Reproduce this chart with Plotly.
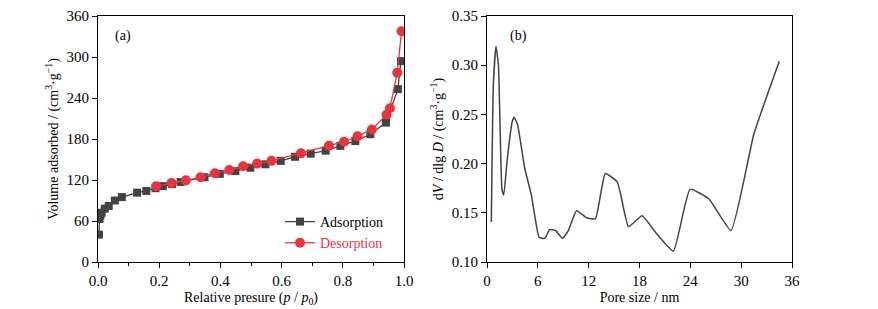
import plotly.graph_objects as go

# Panel (a): N2 adsorption-desorption isotherm
ads_x = [0.003, 0.005, 0.008, 0.012, 0.022, 0.035, 0.055, 0.078, 0.128, 0.158, 0.188, 0.212,
         0.242, 0.270, 0.348, 0.398, 0.449, 0.498, 0.547, 0.597, 0.644, 0.695, 0.744, 0.792,
         0.841, 0.890, 0.941, 0.980, 0.990]
ads_y = [40, 63, 68, 72, 78, 82, 90, 95, 101.5, 104, 108, 111,
         114, 117, 124, 129, 133, 138, 143, 148, 154, 158.5, 163, 170,
         177, 187, 204, 253, 294]
des_x = [0.992, 0.978, 0.954, 0.943, 0.895, 0.848, 0.804, 0.755, 0.663, 0.567, 0.520, 0.474,
         0.429, 0.382, 0.335, 0.287, 0.240, 0.190]
des_y = [337.6, 277, 225, 215.6, 194, 184, 176, 170, 159, 148, 144, 140,
         134.6, 130, 124, 119.5, 115.6, 110.7]

# Panel (b): pore size distribution
pore_x = [0.51, 0.75, 1.06, 1.35, 1.77, 1.97, 2.4, 2.96, 3.2, 3.6, 4.46, 5.24, 6.15, 6.82, 7.4,
          8.1, 8.9, 9.6, 10.57, 11.75, 12.8, 13.96, 15.4, 16.7, 18.3, 20.0, 22.0, 23.97,
          26.2, 28.8, 31.5, 34.5]
pore_y = [0.1407, 0.28, 0.319, 0.30, 0.173, 0.168, 0.205, 0.242, 0.247, 0.240, 0.195, 0.168,
          0.125, 0.124, 0.133, 0.132, 0.124, 0.132, 0.152, 0.145, 0.144, 0.190, 0.181, 0.136,
          0.147, 0.129, 0.111, 0.174, 0.164, 0.132, 0.230, 0.304]

GRAY = "#434343"
RED = "#e8343f"
FONT = "Liberation Serif"

fig = go.Figure()
fig.add_trace(go.Scatter(x=ads_x, y=ads_y, mode="lines+markers", name="Adsorption",
                         line=dict(color=GRAY, width=1.3),
                         marker=dict(symbol="square", size=8, color=GRAY),
                         xaxis="x", yaxis="y"))
fig.add_trace(go.Scatter(x=des_x, y=des_y, mode="lines+markers",
                         name=f"<span style='color:{RED}'>Desorption</span>",
                         line=dict(color=RED, width=1.3),
                         marker=dict(symbol="circle", size=10, color=RED),
                         xaxis="x", yaxis="y"))
fig.add_trace(go.Scatter(x=pore_x, y=pore_y, mode="lines", showlegend=False,
                         line=dict(color=GRAY, width=1.5, shape="spline", smoothing=0.4),
                         xaxis="x2", yaxis="y2"))

axis_common = dict(showline=True, linecolor="black", linewidth=1.2, mirror=True,
                   ticks="outside", ticklen=5, tickwidth=1, tickcolor="black",
                   showgrid=False, zeroline=False, automargin=False,
                   tickfont=dict(family=FONT, size=15, color="black"),
                   minor=dict(ticks="outside", ticklen=3, tickcolor="black", nticks=2))

fig.update_layout(
    width=878, height=309,
    margin=dict(l=0, r=0, t=16, b=47),
    paper_bgcolor="white", plot_bgcolor="white",
    font=dict(family=FONT, color="black"),
    xaxis=dict(domain=[98/878, 404/878], range=[0, 1.0], dtick=0.2, tickformat=".1f",
               title=dict(text="Relative presure (<i>p</i> / <i>p</i><sub>0</sub>)",
                          font=dict(family=FONT, size=14), standoff=4),
               anchor="y", **axis_common),
    yaxis=dict(domain=[0, 1], range=[0, 360], dtick=60,
               title=dict(text="Volume adsorbed / (cm<sup>3</sup>·g<sup>−1</sup>)",
                          font=dict(family=FONT, size=14), standoff=4),
               anchor="x", **axis_common),
    xaxis2=dict(domain=[487/878, 792/878], range=[0, 36], dtick=6,
                title=dict(text="Pore size / nm", font=dict(family=FONT, size=14), standoff=4),
                anchor="y2", **axis_common),
    yaxis2=dict(domain=[0, 1], range=[0.10, 0.35], dtick=0.05, tickformat=".2f",
                title=dict(text="d<i>V</i> / dlg <i>D</i> / (cm<sup>3</sup>·g<sup>−1</sup>)",
                           font=dict(family=FONT, size=14), standoff=4),
                anchor="x2", **axis_common),
    legend=dict(x=280/878, y=56/246, xanchor="left", yanchor="top",
                bgcolor="rgba(0,0,0,0)", font=dict(family=FONT, size=14),
                itemwidth=30, tracegroupgap=2),
    annotations=[
        dict(text="(a)", x=0.05, y=0.96, xref="x domain", yref="y domain",
             showarrow=False, xanchor="left", yanchor="top",
             font=dict(family=FONT, size=14, color="black")),
        dict(text="(b)", x=0.07, y=0.96, xref="x2 domain", yref="y2 domain",
             showarrow=False, xanchor="left", yanchor="top",
             font=dict(family=FONT, size=14, color="black")),
    ],
)

fig.write_html("out.html", config={"displayModeBar": False},
               post_script="document.body.style.margin='0';document.body.style.overflow='hidden';")
